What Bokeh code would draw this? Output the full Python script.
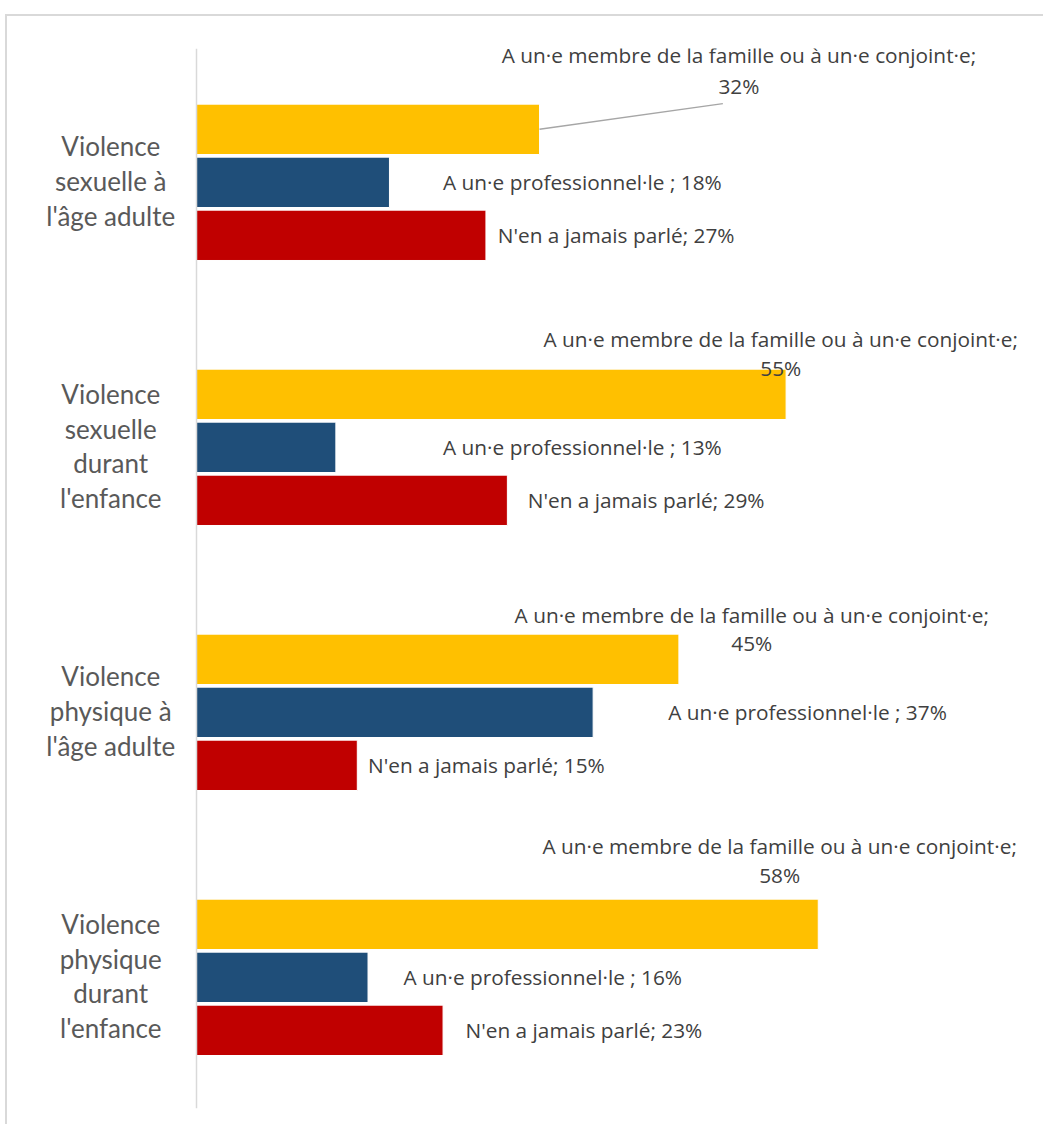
from bokeh.plotting import figure
from bokeh.models import FactorRange, Range1d, Span, ColumnDataSource
from bokeh.transform import dodge
from bokeh.core.properties import value
from bokeh.embed import file_html
from bokeh.resources import INLINE

# ---------------- data ----------------
categories = [
    "Violence sexuelle à l'âge adulte",
    "Violence sexuelle durant l'enfance",
    "Violence physique à l'âge adulte",
    "Violence physique durant l'enfance",
]
category_labels = [
    "Violence\nsexuelle à\nl'âge adulte",
    "Violence\nsexuelle\ndurant\nl'enfance",
    "Violence\nphysique à\nl'âge adulte",
    "Violence\nphysique\ndurant\nl'enfance",
]
series_names = [
    "A un·e membre de la famille ou à un·e conjoint·e",
    "A un·e professionnel·le",
    "N'en a jamais parlé",
]
famille = [32, 55, 45, 58]
professionnel = [18, 13, 37, 16]
jamais = [27, 29, 15, 23]

# ---------------- style / label placement ----------------
colors = ["#FFC000", "#1F4E79", "#C00000"]
bar_offsets = [0.195, -0.005, -0.205]
bar_height = 0.19
fam_label_x = [50.6, 54.5, 51.8, 54.4]          # centre of the 2-line label
fam_label_dy1 = [0.474, 0.402, 0.364, 0.492]     # first line, from category centre
fam_label_dy2 = [0.360, 0.296, 0.255, 0.383]     # second line
pro_label_x = [23.0, 23.0, 44.0, 19.3]
jam_label_x = [28.1, 30.9, 16.0, 25.1]
leader_end = (49.1, 0.292)                       # first group only

PX_PER_UNIT = 10.72
CANVAS_X0, CANVAS_Y0 = 7, 16          # after css margin + border
AXIS_X = 196
FRAME_TOP, FRAME_BOTTOM = 48, 1108
W = 1045 - CANVAS_X0
H = 1126 - CANVAS_Y0

x_start = -(AXIS_X - CANVAS_X0) / PX_PER_UNIT
x_end = (1045 - AXIS_X) / PX_PER_UNIT

n = len(categories)
p = figure(
    width=W, height=H,
    y_range=FactorRange(factors=categories[::-1]),
    x_range=Range1d(x_start, x_end),
    output_backend="svg", toolbar_location=None,
    min_border_top=FRAME_TOP - CANVAS_Y0,
    min_border_bottom=H - (FRAME_BOTTOM - CANVAS_Y0),
    min_border_left=0, min_border_right=0,
)
p.styles = {"margin-left": "5px", "margin-top": "14px",
            "border-left": "2px solid #d9d9d9",
            "border-top": "2px solid #d9d9d9"}
p.axis.visible = False
p.grid.visible = False
p.outline_line_color = None
p.background_fill_color = "white"
p.border_fill_color = "white"

src = ColumnDataSource(dict(cat=categories, famille=famille,
                            professionnel=professionnel, jamais=jamais,
                            catlab=category_labels))

for col, c, off in zip(["famille", "professionnel", "jamais"], colors, bar_offsets):
    p.hbar(y=dodge("cat", off, range=p.y_range), left=0, right=col,
           height=bar_height, fill_color=c, line_color="white",
           line_width=1, source=src)

p.add_layout(Span(location=0, dimension="height", line_color="#d9d9d9",
                  line_width=1.5))

# category labels
p.text(x=-8.0, y="cat", text="catlab", source=src,
       text_align="center", text_baseline="middle",
       text_font=value("Lato"), text_font_size="26px",
       text_color="#595959", text_line_height=1.08)

# synthetic category centres (first factor of range at bottom)
centres = [n - i - 0.5 for i in range(n)]

lab_font = dict(text_font=value("Open Sans"), text_font_size="20.8px",
                text_color="#404040", text_baseline="middle")

p.text(x=fam_label_x, y=[c + d for c, d in zip(centres, fam_label_dy1)],
       text=[series_names[0] + ";" for _ in famille], text_align="center",
       **lab_font)
p.text(x=fam_label_x, y=[c + d for c, d in zip(centres, fam_label_dy2)],
       text=[f"{v}%" for v in famille], text_align="center", **lab_font)
p.text(x=pro_label_x, y=[c + bar_offsets[1] for c in centres],
       text=[f"{series_names[1]} ; {v}%" for v in professionnel],
       text_align="left", **lab_font)
p.text(x=jam_label_x, y=[c + bar_offsets[2] for c in centres],
       text=[f"{series_names[2]}; {v}%" for v in jamais],
       text_align="left", **lab_font)

# leader line for first group's family label
p.segment(x0=[famille[0]], y0=[centres[0] + bar_offsets[0]],
          x1=[leader_end[0]], y1=[centres[0] + leader_end[1]],
          line_color="#a6a6a6", line_width=1.5)

open("out.html", "w").write(file_html(p, INLINE))
